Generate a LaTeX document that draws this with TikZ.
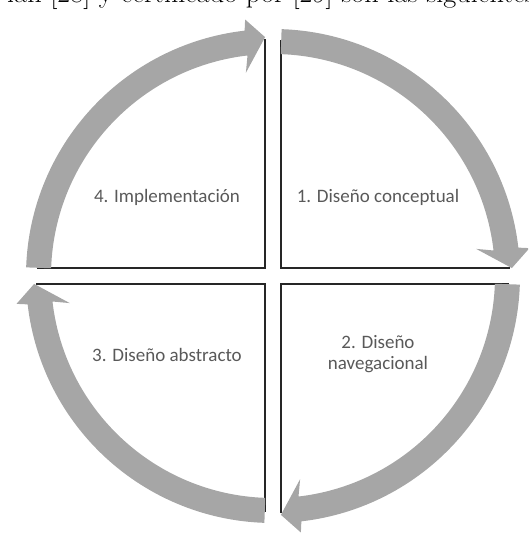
\documentclass[tikz,border=0pt]{standalone}
\usepackage{fontspec}
\setsansfont{Carlito}
\usetikzlibrary{positioning}

\definecolor{cyclegray}{RGB}{166,166,166}
\definecolor{labelgray}{RGB}{89,89,89}

\begin{document}
\begin{tikzpicture}[
    x=1pt,y=1pt,
    font=\sffamily,
    cyclearrow/.style={fill=cyclegray, draw=none},
    quadline/.style={draw=black!85, line width=1.3pt, line cap=butt},
    phase/.style={
        text=labelgray,
        align=center,
        inner sep=0pt,
        font=\sffamily\fontsize{19}{20.5}\selectfont
    }
]

% -----------------------------------------------------------------------------
% Frame (cut from the page)
% -----------------------------------------------------------------------------
\useasboundingbox (-273,-259) rectangle (255,276);
\clip (-273,-259) rectangle (255,276);

\node[anchor=base west, inner sep=0pt, font=\rmfamily\fontsize{28.3}{30}\selectfont]
    (pagetext) at (-266,273) {ían [28] y certificado por [29] son las siguientes};

% -----------------------------------------------------------------------------
% Quadrant borders
% -----------------------------------------------------------------------------
\foreach \rot in {0,-90,-180,-270} {
    \draw[quadline, rotate=\rot] (-236,8) -- (-8,8) -- (-8,237);
}

% -----------------------------------------------------------------------------
% Cycle arrows (clockwise)
% -----------------------------------------------------------------------------
\foreach \rot in {0,-90,-180,-270} {
    \fill[cyclearrow, rotate=\rot]
        (178:247pt) arc[start angle=178, end angle=96.6, radius=247pt]
        -- (96.2:258pt) -- (91.9:239pt) -- (97.6:205pt)
        -- (96.6:222pt) arc[start angle=96.6, end angle=178, radius=222pt]
        -- cycle;
}

% -----------------------------------------------------------------------------
% Phases
% -----------------------------------------------------------------------------
\node[phase] (impl) at (-106,79) {4. Implementación};
\node[phase] (concept) at (105,79) {1. Diseño conceptual};
\node[phase] (nav) at (105,-78) {2. Diseño\\navegacional};
\node[phase] (abstract) at (-106,-79) {3. Diseño abstracto};

\end{tikzpicture}
\end{document}
